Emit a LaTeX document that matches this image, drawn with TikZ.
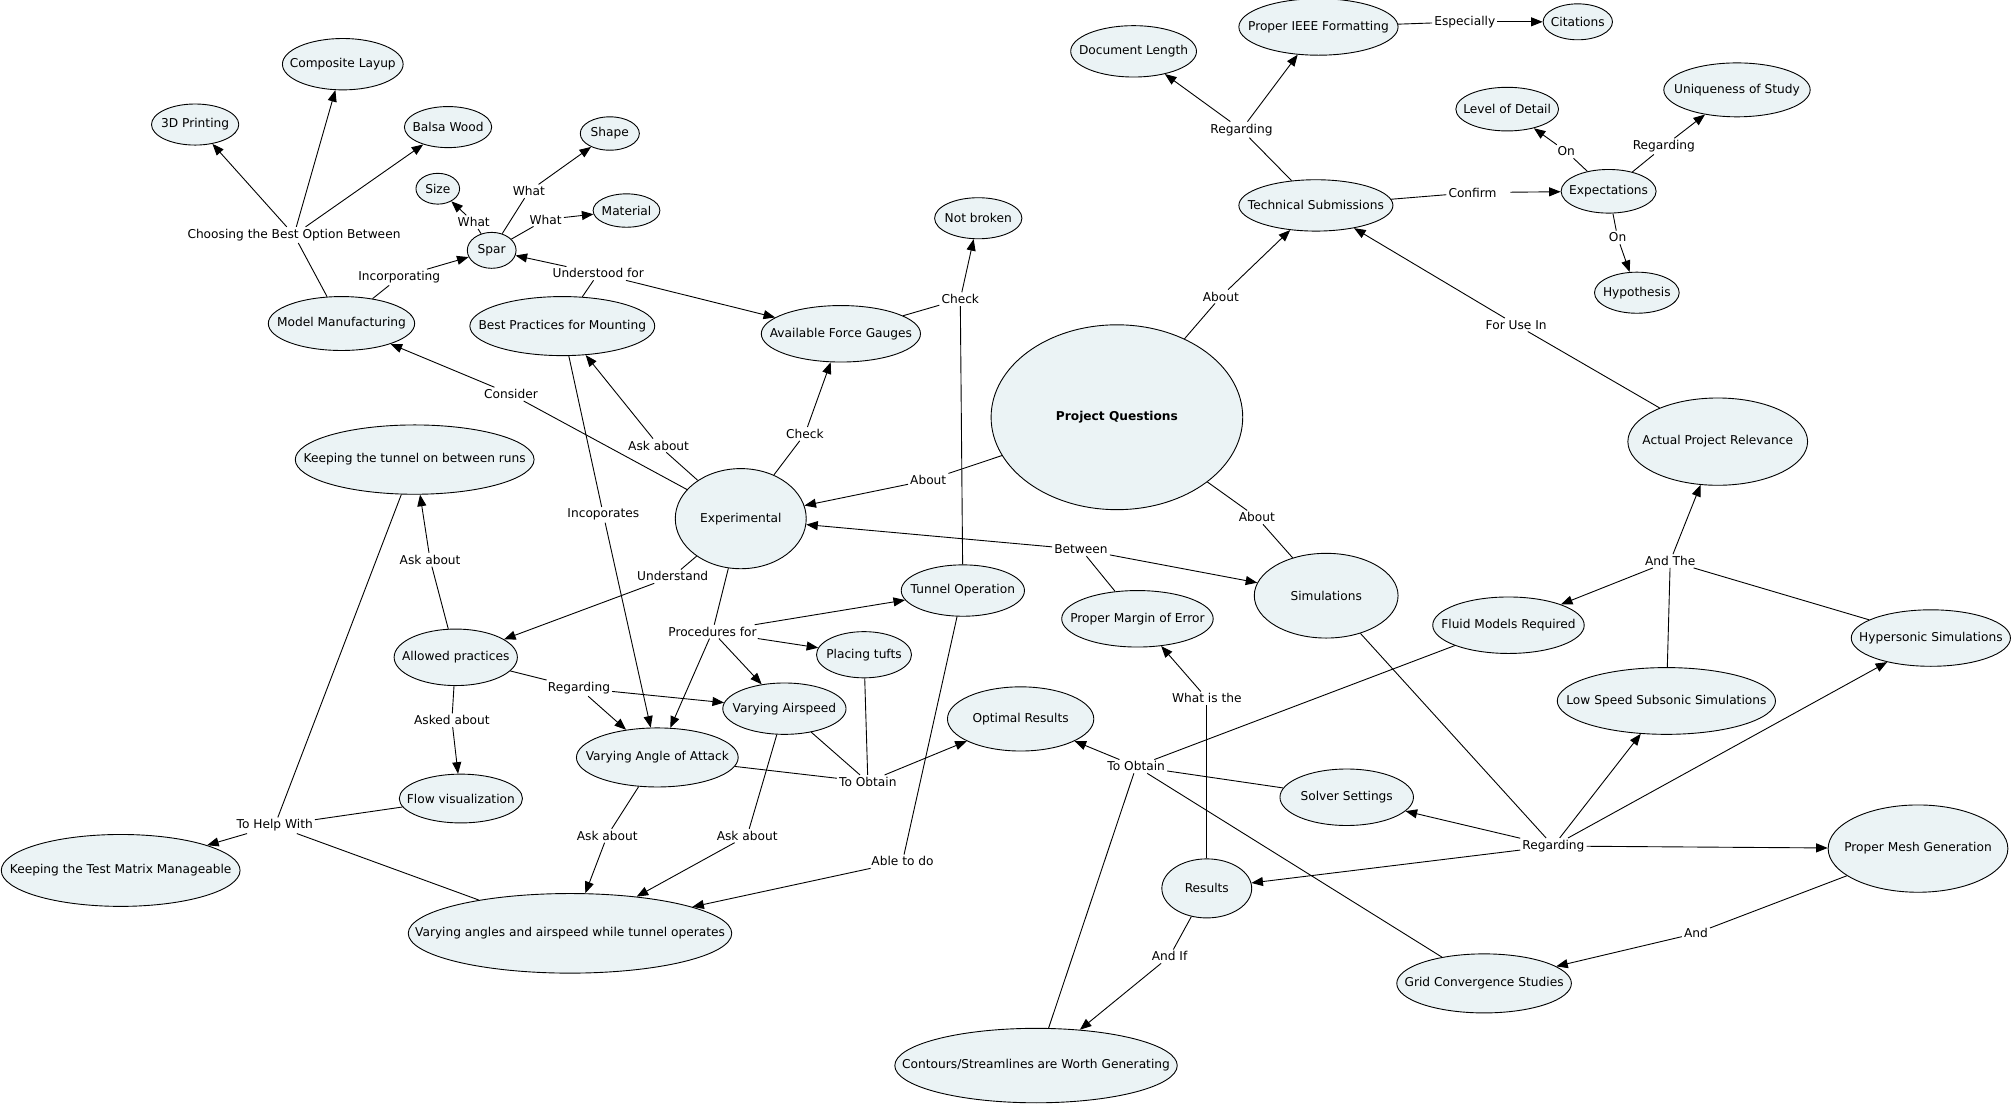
\documentclass[tikz,border=0pt]{standalone}
\usepackage{fontspec}
\setmainfont{DejaVu Sans}
\usetikzlibrary{shapes.geometric,arrows.meta}
\definecolor{cfill}{HTML}{EBF3F5}
\tikzset{
  concept/.style={ellipse, draw=black, line width=0.7pt, fill=cfill, inner sep=0pt, font=\fontsize{9.5}{11}\selectfont},
  lbl/.style={inner sep=1.5pt, font=\fontsize{9.5}{11}\selectfont},
  conn/.style={line width=0.7pt},
  arr/.style={line width=0.7pt, -{Triangle[length=9pt,width=7pt]}},
}
\newcommand{\cpt}[6]{\node[concept, minimum width=#4pt, minimum height=#5pt] (#1) at (#2,#3) {\makebox[0pt]{#6}};}
\begin{document}
\begin{tikzpicture}[x=1pt,y=-1pt]
\useasboundingbox[fill=white] (0,0) rectangle (1568,862);
% concepts
\cpt{comp}{267}{50}{94}{40}{Composite Layup}
\cpt{print}{152}{97}{68}{32}{3D Printing}
\cpt{balsa}{349}{99}{68}{32}{Balsa Wood}
\cpt{shape}{475}{104}{46}{26}{Shape}
\cpt{size}{341}{147}{34}{24}{Size}
\cpt{mat}{488}{164}{52}{26}{Material}
\cpt{spar}{383}{195}{38}{28}{Spar}
\cpt{mm}{266}{252}{114}{42}{Model Manufacturing}
\cpt{bpm}{438}{254}{144}{46}{Best Practices for Mounting}
\cpt{afg}{655}{260}{124}{44}{Available Force Gauges}
\cpt{nb}{762}{170}{68}{32}{Not broken}
\cpt{dl}{883}{40}{98}{40}{Document Length}
\cpt{ieee}{1027}{21}{124}{44}{Proper IEEE Formatting}
\cpt{cit}{1229}{17}{54}{28}{Citations}
\cpt{ts}{1025}{160}{120}{40}{Technical Submissions}
\cpt{lod}{1174}{85}{80}{34}{Level of Detail}
\cpt{uos}{1353}{70}{114}{42}{Uniqueness of Study}
\cpt{exp}{1253}{149}{74}{34}{Expectations}
\cpt{hyp}{1275}{228}{66}{32}{Hypothesis}
\cpt{pq}{870}{325}{196}{144}{\bfseries Project Questions}
\cpt{apr}{1338}{344}{140}{68}{Actual Project Relevance}
\cpt{kto}{323}{358}{186}{54}{Keeping the tunnel on between runs}
\cpt{ex}{577}{404}{102}{78}{Experimental}
\cpt{to}{750}{460}{96}{40}{Tunnel Operation}
\cpt{pme}{886}{482}{118}{44}{Proper Margin of Error}
\cpt{sim}{1033}{464}{112}{66}{Simulations}
\cpt{fmr}{1175}{487}{118}{44}{Fluid Models Required}
\cpt{hs}{1504}{497}{124}{44}{Hypersonic Simulations}
\cpt{lss}{1298}{546}{170}{52}{Low Speed Subsonic Simulations}
\cpt{ap}{355}{512}{96}{44}{Allowed practices}
\cpt{pt}{673}{510}{74}{36}{Placing tufts}
\cpt{va}{611}{552}{96}{40}{Varying Airspeed}
\cpt{vaoa}{512}{590}{126}{46}{Varying Angle of Attack}
\cpt{or}{795}{560}{114}{50}{Optimal Results}
\cpt{ss}{1049}{621}{104}{44}{Solver Settings}
\cpt{pmg}{1494}{661}{140}{68}{Proper Mesh Generation}
\cpt{res}{940}{692}{70}{46}{Results}
\cpt{fv}{359}{622}{96}{38}{Flow visualization}
\cpt{ktm}{94}{678}{186}{56}{Keeping the Test Matrix Manageable}
\cpt{vat}{444}{727}{252}{62}{Varying angles and airspeed while tunnel operates}
\cpt{gcs}{1156}{766}{136}{46}{Grid Convergence Studies}
\cpt{csw}{807}{830}{220}{58}{Contours/Streamlines are Worth Generating}
% linking phrases
\node[lbl] (lchoose) at (229,183) {Choosing the Best Option Between};
\node[lbl] (linc) at (311,216) {Incorporating};
\node[lbl] (lwsize) at (369,173) {What};
\node[lbl] (lwshape) at (412,149) {What};
\node[lbl] (lwmat) at (425,171) {What};
\node[lbl] (lund) at (466,213) {Understood for};
\node[lbl] (lcons) at (398,307) {Consider};
\node[lbl] (laskbp) at (513,347) {Ask about};
\node[lbl] (lcheck1) at (627,338) {Check};
\node[lbl] (lcheck2) at (748,233) {Check};
\node[lbl] (lregts) at (967,101) {Regarding};
\node[lbl] (lesp) at (1141,17) {Especially};
\node[lbl] (lconf) at (1147,150) {Confirm};
\node[lbl] (lon1) at (1220,118) {On};
\node[lbl] (lregu) at (1296,114) {Regarding};
\node[lbl] (lon2) at (1260,185) {On};
\node[lbl] (labts) at (951,231) {About};
\node[lbl] (lfor) at (1181,253) {For Use In};
\node[lbl] (labex) at (723,374) {About};
\node[lbl] (labsim) at (979,403) {About};
\node[lbl] (lbet) at (842,428) {Between};
\node[lbl] (laskkto) at (335,436) {Ask about};
\node[lbl] (lincp) at (470,401) {Incoporates};
\node[lbl] (lunder) at (524,449) {Understand};
\node[lbl] (lproc) at (555,492) {Procedures for};
\node[lbl] (lregap) at (451,536) {Regarding};
\node[lbl] (laskfv) at (352,561) {Asked about};
\node[lbl] (lobt1) at (676,609) {To Obtain};
\node[lbl] (lobt2) at (885,597) {To Obtain};
\node[lbl] (lwhat) at (940,544) {What is the};
\node[lbl] (landthe) at (1301,437) {And The};
\node[lbl] (lregsim) at (1210,659) {Regarding};
\node[lbl] (land) at (1321,727) {And};
\node[lbl] (landif) at (911,745) {And If};
\node[lbl] (lhelp) at (214,643) {To Help With};
\node[lbl] (laskv1) at (473,651) {Ask about};
\node[lbl] (laskv2) at (582,651) {Ask about};
\node[lbl] (lable) at (703,671) {Able to do};
% connections
\draw[conn] (mm) -- (lchoose);
\draw[arr] (lchoose) -- (print);
\draw[arr] (lchoose) -- (comp);
\draw[arr] (lchoose) -- (balsa);
\draw[conn] (mm) -- (linc);
\draw[arr] (linc) -- (spar);
\draw[conn] (spar) -- (lwsize);
\draw[arr] (lwsize) -- (size);
\draw[conn] (spar) -- (lwshape);
\draw[arr] (lwshape) -- (shape);
\draw[conn] (spar) -- (lwmat);
\draw[arr] (lwmat) -- (mat);
\draw[conn] (bpm) -- (lund);
\draw[arr] (lund) -- (spar);
\draw[arr] (lund) -- (afg);
\draw[conn] (ex) -- (lcons);
\draw[arr] (lcons) -- (mm);
\draw[conn] (ex) -- (laskbp);
\draw[arr] (laskbp) -- (bpm);
\draw[conn] (ex) -- (lcheck1);
\draw[arr] (lcheck1) -- (afg);
\draw[conn] (afg) -- (lcheck2);
\draw[conn] (to) -- (lcheck2);
\draw[arr] (lcheck2) -- (nb);
\draw[conn] (ts) -- (lregts);
\draw[arr] (lregts) -- (dl);
\draw[arr] (lregts) -- (ieee);
\draw[conn] (ieee) -- (lesp);
\draw[arr] (lesp) -- (cit);
\draw[conn] (ts) -- (lconf);
\draw[arr, shorten <=9pt] (lconf) -- (exp);
\draw[conn] (exp) -- (lon1);
\draw[arr] (lon1) -- (lod);
\draw[conn] (exp) -- (lregu);
\draw[arr] (lregu) -- (uos);
\draw[conn] (exp) -- (lon2);
\draw[arr] (lon2) -- (hyp);
\draw[conn] (pq) -- (labts);
\draw[arr] (labts) -- (ts);
\draw[conn] (apr) -- (lfor);
\draw[arr] (lfor) -- (ts);
\draw[conn] (pq) -- (labex);
\draw[arr] (labex) -- (ex);
\draw[conn] (pq) -- (labsim);
\draw[conn] (labsim) -- (sim);
\draw[conn] (pme) -- (lbet);
\draw[arr] (lbet) -- (ex);
\draw[arr] (lbet) -- (sim);
\draw[conn] (ap) -- (laskkto);
\draw[arr] (laskkto) -- (kto);
\draw[conn] (bpm) -- (lincp);
\draw[arr] (lincp) -- (vaoa);
\draw[conn] (ex) -- (lunder);
\draw[arr] (lunder) -- (ap);
\draw[conn] (ex) -- (lproc);
\draw[arr] (lproc) -- (to);
\draw[arr] (lproc) -- (pt);
\draw[arr] (lproc) -- (va);
\draw[arr] (lproc) -- (vaoa);
\draw[conn] (ap) -- (lregap);
\draw[arr] (lregap) -- (vaoa);
\draw[arr] (lregap) -- (va);
\draw[conn] (ap) -- (laskfv);
\draw[arr] (laskfv) -- (fv);
\draw[conn] (vaoa) -- (lobt1);
\draw[conn] (va) -- (lobt1);
\draw[conn] (pt) -- (lobt1);
\draw[arr] (lobt1) -- (or);
\draw[conn] (fmr) -- (lobt2);
\draw[conn] (ss) -- (lobt2);
\draw[conn] (gcs) -- (lobt2);
\draw[conn] (csw) -- (lobt2);
\draw[arr] (lobt2) -- (or);
\draw[conn] (res) -- (lwhat);
\draw[arr] (lwhat) -- (pme);
\draw[conn] (lss) -- (landthe);
\draw[conn] (hs) -- (landthe);
\draw[arr] (landthe) -- (fmr);
\draw[arr] (landthe) -- (apr);
\draw[conn] (sim) -- (lregsim);
\draw[arr] (lregsim) -- (res);
\draw[arr] (lregsim) -- (ss);
\draw[arr] (lregsim) -- (lss);
\draw[arr] (lregsim) -- (hs);
\draw[arr] (lregsim) -- (pmg);
\draw[conn] (pmg) -- (land);
\draw[arr] (land) -- (gcs);
\draw[conn] (res) -- (landif);
\draw[arr] (landif) -- (csw);
\draw[conn] (fv) -- (lhelp);
\draw[conn] (kto) -- (lhelp);
\draw[conn] (vat) -- (lhelp);
\draw[arr] (lhelp) -- (ktm);
\draw[conn] (vaoa) -- (laskv1);
\draw[arr] (laskv1) -- (vat);
\draw[conn] (va) -- (laskv2);
\draw[arr] (laskv2) -- (vat);
\draw[conn] (to) -- (lable);
\draw[arr] (lable) -- (vat);
\end{tikzpicture}
\end{document}
